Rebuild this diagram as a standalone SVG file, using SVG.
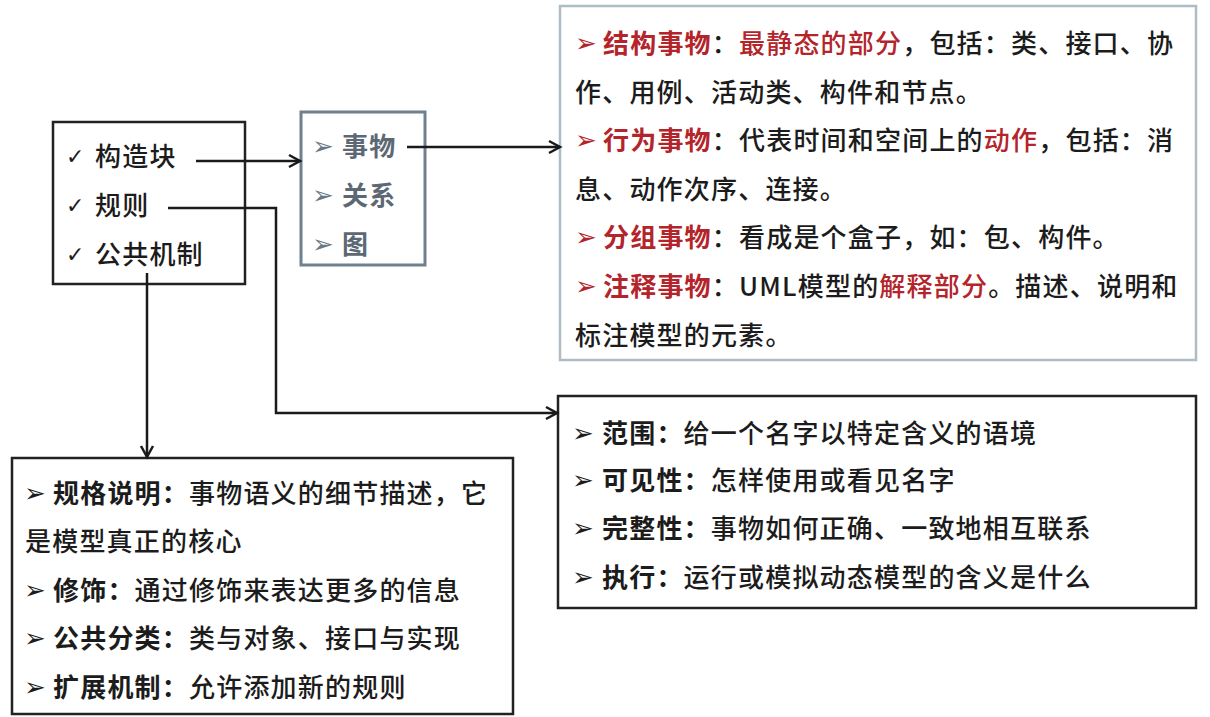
<svg xmlns="http://www.w3.org/2000/svg" width="1210" height="717" viewBox="0 0 1210 717">
  <style>
    text { font-family: "Noto Sans CJK SC", "Noto Sans", sans-serif; font-size: 26px; letter-spacing: 1.2px; fill: #1c1c1c; font-weight: 500; }
    .bul { font-family: "DejaVu Sans", sans-serif; font-size: 26px; font-weight: bold; letter-spacing: 0; }
    .chk { font-family: "DejaVu Sans", sans-serif; font-size: 22px; letter-spacing: 0; }
    .b { font-weight: bold; }
    .red { fill: #b3242b; }
    .gray { fill: #5c6873; font-weight: bold; }
    .box { fill: #ffffff; stroke: #222222; stroke-width: 2.5; }
    .conn { fill: none; stroke: #1a1a1a; stroke-width: 2.5; }
  </style>
  <defs>
    <marker id="arr" markerUnits="userSpaceOnUse" markerWidth="16" markerHeight="16" refX="13" refY="8" orient="auto">
      <path d="M2,2 L13,8 L2,14" fill="none" stroke="#1a1a1a" stroke-width="2.5" stroke-linejoin="miter"/>
    </marker>
  </defs>
  <rect width="1210" height="717" fill="#ffffff"/>

  <g id="node-main">
    <rect class="box" x="53" y="122" width="192" height="162"/>
    <text class="chk" x="66" y="164">✓</text>
    <text x="95" y="166">构造块</text>
    <text class="chk" x="66" y="213">✓</text>
    <text x="95" y="215">规则</text>
    <text class="chk" x="66" y="262">✓</text>
    <text x="95" y="264">公共机制</text>
  </g>

  <g id="node-blocks">
    <rect x="301" y="112" width="124" height="153" fill="#ffffff" stroke="#6f808e" stroke-width="3"/>
    <text class="bul" x="312" y="155" style="fill:#6b7782">➢</text>
    <text class="gray" x="342" y="156">事物</text>
    <text class="bul" x="312" y="204" style="fill:#6b7782">➢</text>
    <text class="gray" x="342" y="205">关系</text>
    <text class="bul" x="312" y="253" style="fill:#6b7782">➢</text>
    <text class="gray" x="342" y="254">图</text>
  </g>

  <g id="node-things">
    <rect x="560" y="6" width="636" height="354" fill="#ffffff" stroke="#aebcc6" stroke-width="2.5"/>
    <text class="bul red" x="575" y="52">➢</text>
    <text x="603" y="53"><tspan class="b red">结构事物</tspan>：<tspan class="red">最静态的部分</tspan>，包括：类、接口、协</text>
    <text x="575" y="102">作、用例、活动类、构件和节点。</text>
    <text class="bul red" x="575" y="149">➢</text>
    <text x="603" y="150"><tspan class="b red">行为事物</tspan>：代表时间和空间上的<tspan class="red">动作</tspan>，包括：消</text>
    <text x="575" y="199">息、动作次序、连接。</text>
    <text class="bul red" x="575" y="246">➢</text>
    <text x="603" y="247"><tspan class="b red">分组事物</tspan>：看成是个盒子，如：包、构件。</text>
    <text class="bul red" x="575" y="295">➢</text>
    <text x="603" y="296"><tspan class="b red">注释事物</tspan>：UML模型的<tspan class="red">解释部分</tspan>。描述、说明和</text>
    <text x="575" y="345">标注模型的元素。</text>
  </g>

  <g id="node-mechanisms">
    <rect class="box" x="12" y="458" width="501" height="256"/>
    <text class="bul" x="24" y="502">➢</text>
    <text x="53" y="503"><tspan class="b">规格说明：</tspan>事物语义的细节描述，它</text>
    <text x="25" y="551">是模型真正的核心</text>
    <text class="bul" x="24" y="599">➢</text>
    <text x="53" y="600"><tspan class="b">修饰：</tspan>通过修饰来表达更多的信息</text>
    <text class="bul" x="24" y="647">➢</text>
    <text x="53" y="648"><tspan class="b">公共分类：</tspan>类与对象、接口与实现</text>
    <text class="bul" x="24" y="696">➢</text>
    <text x="53" y="697"><tspan class="b">扩展机制：</tspan>允许添加新的规则</text>
  </g>

  <g id="node-rules">
    <rect class="box" x="558" y="396" width="638" height="212"/>
    <text class="bul" x="572" y="442">➢</text>
    <text x="602" y="443"><tspan class="b">范围：</tspan>给一个名字以特定含义的语境</text>
    <text class="bul" x="572" y="489">➢</text>
    <text x="602" y="490"><tspan class="b">可见性：</tspan>怎样使用或看见名字</text>
    <text class="bul" x="572" y="537">➢</text>
    <text x="602" y="538"><tspan class="b">完整性：</tspan>事物如何正确、一致地相互联系</text>
    <text class="bul" x="572" y="586">➢</text>
    <text x="602" y="587"><tspan class="b">执行：</tspan>运行或模拟动态模型的含义是什么</text>
  </g>

  <g id="connectors">
    <path class="conn" d="M196,161 H300" marker-end="url(#arr)"/>
    <path class="conn" d="M407,147 H560" marker-end="url(#arr)"/>
    <path class="conn" d="M168,208 H276 V413 H557" marker-end="url(#arr)"/>
    <path class="conn" d="M147,273 V457" marker-end="url(#arr)"/>
  </g>
</svg>
